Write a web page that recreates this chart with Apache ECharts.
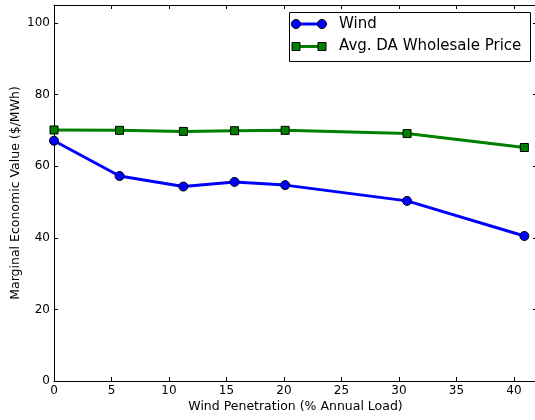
<!DOCTYPE html>
<html>
<head>
<meta charset="utf-8">
<script src="https://cdn.jsdelivr.net/npm/echarts@6/dist/echarts.min.js"></script>
<style>
html,body{margin:0;padding:0;background:#fff;overflow:hidden;}
#c{width:535px;height:420px;}
</style>
</head>
<body>
<div id="c"></div>
<script>
// Data
const windPenetration = [0, 5.7, 11.25, 15.7, 20.1, 30.7, 40.9];
const windValue = [67.1, 57.25, 54.3, 55.6, 54.7, 50.3, 40.5];
const priceValue = [70.1, 70.0, 69.7, 69.9, 70.0, 69.1, 65.2];
const seriesNames = ['Wind', 'Avg. DA Wholesale Price'];
const xTicks = [0, 5, 10, 15, 20, 25, 30, 35, 40];
const yTicks = [0, 20, 40, 60, 80, 100];

const FONT = '"DejaVu Sans", "Bitstream Vera Sans", sans-serif';
const chart = echarts.init(document.getElementById('c'), null, {renderer: 'canvas', width: 535, height: 420});

function pairs(xs, ys) { return xs.map((x, i) => [x, ys[i]]); }

const axisCommon = {
  axisLine: {show: true, onZero: false, lineStyle: {color: '#000', width: 1}},
  axisTick: {show: true, inside: true, length: 4, lineStyle: {color: '#000', width: 1}},
  splitLine: {show: false}
};

const option = {
  animation: false,
  backgroundColor: '#fff',
  grid: {left: 54, right: -2, top: 5, bottom: 39, containLabel: false, outerBoundsMode: 'none'},
  xAxis: [
    Object.assign({}, axisCommon, {
      type: 'value', min: 0, max: 42, interval: 5, position: 'bottom',
      name: 'Wind Penetration (% Annual Load)', nameLocation: 'middle', nameGap: 19,
      nameMoveOverlap: false,
      nameTextStyle: {fontFamily: FONT, fontSize: 12.5, color: '#000'},
      axisLabel: {margin: 4, fontFamily: FONT, fontSize: 12, color: '#000',
        formatter: v => xTicks.includes(v) ? String(v) : ''}
    }),
    Object.assign({}, axisCommon, {
      type: 'value', min: 0, max: 42, interval: 5, position: 'top',
      axisLabel: {show: false}
    })
  ],
  yAxis: [
    Object.assign({}, axisCommon, {
      type: 'value', min: 0, max: 105, interval: 20, position: 'left',
      name: 'Marginal Economic Value ($/MWh)', nameLocation: 'middle', nameGap: 32,
      nameMoveOverlap: false,
      nameTextStyle: {fontFamily: FONT, fontSize: 12.5, color: '#000'},
      axisLabel: {margin: 4, fontFamily: FONT, fontSize: 12, color: '#000',
        formatter: v => yTicks.includes(v) ? String(v) : ''}
    }),
    Object.assign({}, axisCommon, {
      type: 'value', min: 0, max: 105, interval: 20, position: 'right',
      axisLabel: {show: false}
    })
  ],
  series: [
    {
      name: seriesNames[0], type: 'line', xAxisIndex: 0, yAxisIndex: 0,
      data: pairs(windPenetration, windValue),
      symbol: 'circle', symbolSize: 9, showAllSymbol: true,
      lineStyle: {color: '#0000ff', width: 3},
      itemStyle: {color: '#0000ff', borderColor: '#000', borderWidth: 1},
      z: 2
    },
    {
      name: seriesNames[1], type: 'line', xAxisIndex: 0, yAxisIndex: 0,
      data: pairs(windPenetration, priceValue),
      symbol: 'rect', symbolSize: 8, showAllSymbol: true,
      lineStyle: {color: '#008000', width: 3},
      itemStyle: {color: '#008000', borderColor: '#000', borderWidth: 1},
      z: 3
    }
  ],
  graphic: [
    {type: 'rect', z: 100, shape: {x: 289.5, y: 12.5, width: 241, height: 49},
      style: {fill: '#fff', stroke: '#000', lineWidth: 1}},
    {type: 'line', z: 101, shape: {x1: 296, y1: 24, x2: 322, y2: 24},
      style: {stroke: '#0000ff', lineWidth: 3}},
    {type: 'circle', z: 102, shape: {cx: 296, cy: 24, r: 4.5},
      style: {fill: '#0000ff', stroke: '#000', lineWidth: 1}},
    {type: 'circle', z: 102, shape: {cx: 322, cy: 24, r: 4.5},
      style: {fill: '#0000ff', stroke: '#000', lineWidth: 1}},
    {type: 'text', z: 102, style: {x: 339, y: 24, text: seriesNames[0],
      font: '15px ' + FONT, fill: '#000', verticalAlign: 'middle', align: 'left'}},
    {type: 'line', z: 101, shape: {x1: 296, y1: 46.5, x2: 322, y2: 46.5},
      style: {stroke: '#008000', lineWidth: 3}},
    {type: 'rect', z: 102, shape: {x: 292, y: 42.5, width: 8, height: 8},
      style: {fill: '#008000', stroke: '#000', lineWidth: 1}},
    {type: 'rect', z: 102, shape: {x: 318, y: 42.5, width: 8, height: 8},
      style: {fill: '#008000', stroke: '#000', lineWidth: 1}},
    {type: 'text', z: 102, style: {x: 339, y: 46.5, text: seriesNames[1],
      font: '15px ' + FONT, fill: '#000', verticalAlign: 'middle', align: 'left'}}
  ]
};
chart.setOption(option);
</script>
</body>
</html>
